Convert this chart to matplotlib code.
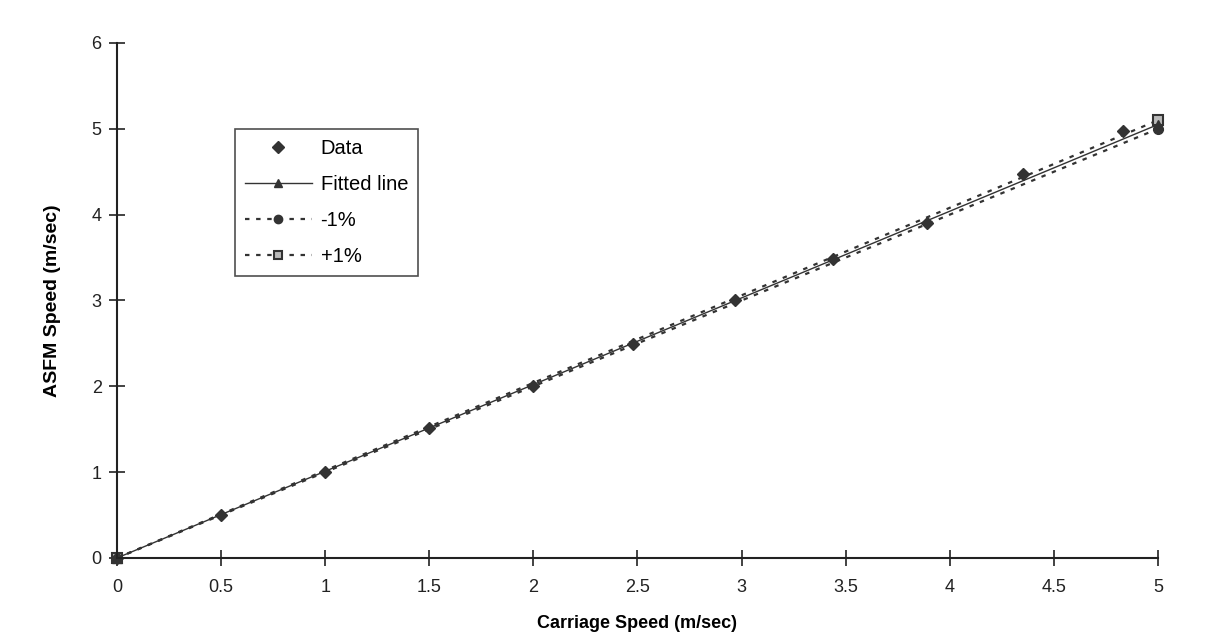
import matplotlib
matplotlib.use("Agg")
import matplotlib.pyplot as plt
from matplotlib.lines import Line2D

plt.rcParams['font.family'] = ['Liberation Sans', 'DejaVu Sans']

# Data
data_x = [0.0, 0.5, 1.0, 1.5, 2.0, 2.48, 2.97, 3.44, 3.89, 4.35, 4.83]
data_y = [0.0, 0.5, 1.0, 1.51, 2.0, 2.49, 3.0, 3.48, 3.9, 4.47, 4.97]

line_x = [0.0, 5.0]
fitted_y = [0.0, 5.05]
minus_y = [0.0, 5.0]
plus_y = [0.0, 5.1]

x_ticks = [0, 0.5, 1, 1.5, 2, 2.5, 3, 3.5, 4, 4.5, 5]
x_tick_labels = ['0', '0.5', '1', '1.5', '2', '2.5', '3', '3.5', '4', '4.5', '5']
y_ticks = [0, 1, 2, 3, 4, 5, 6]

c = '#333333'
fig = plt.figure(figsize=(12.07, 6.35), dpi=100)
ax = fig.add_axes([0.0969, 0.1213, 0.8625, 0.811])

ax.plot(line_x, minus_y, linestyle=(0, (2, 3)), color=c, lw=1.6,
        marker='o', ms=7, mfc=c, mec=c, label='-1%')
ax.plot(line_x, plus_y, linestyle=(0, (2, 3)), color=c, lw=1.6,
        marker='s', ms=7, mfc='#bbbbbb', mec=c, mew=1.5, label='+1%')
ax.plot(line_x, fitted_y, linestyle='-', color=c, lw=1.0,
        marker='^', ms=7, mfc=c, mec=c, label='Fitted line')
ax.plot(data_x, data_y, linestyle='none', marker='D', ms=6.5, color=c,
        label='Data')

ax.set_xlim(0, 5)
ax.set_ylim(0, 6)
ax.set_xticks(x_ticks)
ax.set_xticklabels(x_tick_labels)
ax.set_yticks(y_ticks)
ax.spines['top'].set_visible(False)
ax.spines['right'].set_visible(False)
for s in ('left', 'bottom'):
    ax.spines[s].set_linewidth(1.5)
    ax.spines[s].set_color('#222222')
ax.tick_params(direction='inout', length=12, width=1.2, labelsize=13,
               colors='#222222')
ax.tick_params(axis='x', pad=9)
ax.tick_params(axis='y', pad=5)
for l in ax.lines:
    l.set_clip_on(False)

ax.set_xlabel('Carriage Speed (m/sec)', fontsize=13, fontweight='bold',
              labelpad=14)
ax.set_ylabel('ASFM Speed (m/sec)', fontsize=14, fontweight='bold',
              labelpad=22)

handles = [
    Line2D([], [], linestyle='none', marker='D', ms=6, color=c),
    Line2D([], [], linestyle='-', lw=1.0, marker='^', ms=6, color=c),
    Line2D([], [], linestyle=(0, (2, 3)), lw=1.6, marker='o', ms=6, color=c),
    Line2D([], [], linestyle=(0, (2, 3)), lw=1.6, marker='s', ms=6,
           mfc='#bbbbbb', mec=c, mew=1.5, color=c),
]
labels = ['Data', 'Fitted line', '-1%', '+1%']
leg = ax.legend(handles, labels, loc='upper left',
                bbox_to_anchor=(0.1134, 0.833), frameon=True, fancybox=False,
                edgecolor='#222222', fontsize=14.5, handlelength=3.3,
                borderpad=0.5, labelspacing=0.85, handletextpad=0.45,
                borderaxespad=0)
leg.get_frame().set_linewidth(1.2)

fig.savefig('out.png', dpi=100)
